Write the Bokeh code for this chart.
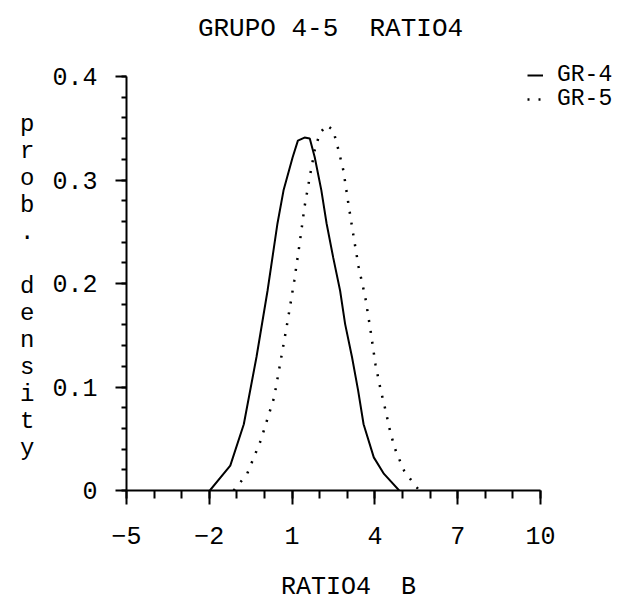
from bokeh.plotting import figure
from bokeh.models import Range1d, FixedTicker, Legend, LegendItem, Label
from bokeh.embed import file_html
from bokeh.resources import INLINE

# ---- data ----
gr4_x = [-1.98, -1.24, -0.75, -0.29, 0.11, 0.47, 0.69, 1.02, 1.21, 1.45, 1.64, 1.82,
         2.06, 2.25, 2.49, 2.74, 2.92, 3.17, 3.39, 3.59, 3.96, 4.33, 4.88]
gr4_y = [0.0, 0.024, 0.064, 0.129, 0.193, 0.258, 0.290, 0.322, 0.338, 0.341, 0.340, 0.322,
         0.290, 0.258, 0.225, 0.193, 0.161, 0.129, 0.097, 0.064, 0.032, 0.016, 0.0]
gr5_x = [-1.12, -0.63, -0.14, 0.35, 0.59, 0.84, 1.08, 1.27, 1.45, 1.64, 1.82, 2.00,
         2.25, 2.49, 2.68, 2.86, 3.04, 3.23, 3.41, 3.65, 3.84, 4.02, 4.21, 4.39,
         4.57, 4.76, 5.06, 5.37, 5.61]
gr5_y = [0.0, 0.016, 0.048, 0.090, 0.126, 0.164, 0.203, 0.238, 0.274, 0.303, 0.329, 0.345,
         0.353, 0.348, 0.329, 0.309, 0.277, 0.245, 0.216, 0.187, 0.155, 0.122, 0.097, 0.077,
         0.055, 0.038, 0.019, 0.008, 0.0]
series_names = ["GR-4", "GR-5"]
x_ticks = [-5, -2, 1, 4, 7, 10]
y_ticks = [0, 0.1, 0.2, 0.3, 0.4]
y_tick_labels = ["0", "0.1", "0.2", "0.3", "0.4"]
title_text = "GRUPO 4-5  RATIO4"
x_title = "RATIO4  B"
y_title = "prob. density"

FONT = "Liberation Mono"
NB = "\u00a0"

# layout: axes span x -5..10 over 126..540 px, y 0..0.4 over 490..76 px;
# the frame is widened to the canvas edge so that title and legend fit in it
X0, X1, Y0, Y1 = -5, 10, 0, 0.4
px_per_x = 414 / (X1 - X0)
px_per_y = 414 / (Y1 - Y0)
x_end = X0 + 504 / px_per_x
y_end = Y0 + 490 / px_per_y

p = figure(width=630, height=616, output_backend="svg", toolbar_location=None,
           x_range=Range1d(X0, x_end), y_range=Range1d(Y0, y_end),
           min_border_left=126, min_border_right=0, min_border_top=0,
           min_border_bottom=126)
p.title.visible = False
p.outline_line_color = None
p.grid.visible = False
p.background_fill_color = "white"
p.border_fill_color = "white"

# axes
xa = p.xaxis[0]
xa.bounds = (X0, X1)
xa.ticker = FixedTicker(ticks=x_ticks, minor_ticks=list(range(-5, 11)))
xa.axis_line_width = 2
xa.major_tick_line_width = 2
xa.minor_tick_line_width = 2
xa.major_tick_in = 0
xa.major_tick_out = 14
xa.minor_tick_in = 0
xa.minor_tick_out = 8
xa.major_label_text_font = FONT
xa.major_label_text_font_size = "25px"
xa.major_label_text_color = "black"
xa.major_label_standoff = 22
xa.axis_label = x_title.replace(" ", NB) + NB * 4
xa.axis_label_text_font = FONT
xa.axis_label_text_font_size = "25px"
xa.axis_label_text_font_style = "normal"
xa.axis_label_standoff = 26
xa.axis_label_text_color = "black"

ya = p.yaxis[0]
ya.bounds = (Y0, Y1)
ya.ticker = FixedTicker(ticks=y_ticks, minor_ticks=[i * 0.02 for i in range(21)])
ya.major_label_overrides = {t: s for t, s in zip(y_ticks, y_tick_labels)}
ya.axis_line_width = 2
ya.major_tick_line_width = 2
ya.minor_tick_line_width = 2
ya.major_tick_in = 0
ya.major_tick_out = 11
ya.minor_tick_in = 0
ya.minor_tick_out = 5
ya.major_label_text_font = FONT
ya.major_label_text_font_size = "25px"
ya.major_label_text_color = "black"
ya.major_label_standoff = 18
ya.axis_label = "\n".join([NB] * 3 + [ch if ch != " " else NB for ch in y_title])
ya.axis_label_orientation = "horizontal"
ya.axis_label_text_font = FONT
ya.axis_label_text_font_size = "24px"
ya.axis_label_text_font_style = "normal"
ya.axis_label_text_line_height = 1.0
ya.axis_label_text_color = "black"
ya.axis_label_standoff = 15

# curves
r4 = p.line(gr4_x, gr4_y, line_color="black", line_width=2)
r5 = p.line(gr5_x, gr5_y, line_color="black", line_width=2.5, line_dash="2 9")

# title (inside the widened frame)
p.add_layout(Label(x=204, y=462, x_units="screen", y_units="screen",
                   text=title_text.replace(" ", NB),
                   text_font=FONT, text_font_size="26px", text_align="center",
                   text_baseline="middle", text_color="black"))

# legend: one entry per box so rows sit as close as in the original
for i, (name, r) in enumerate(zip(series_names, [r4, r5])):
    lg = Legend(items=[LegendItem(label=name, renderers=[r])],
                location=(401, 402 - 24 * i), background_fill_alpha=0,
                border_line_color=None, label_text_font=FONT,
                label_text_color="black",
                label_text_font_size="23px", glyph_width=16, glyph_height=20,
                spacing=0, padding=0, margin=0, label_standoff=14, label_height=20)
    p.add_layout(lg, "center")

open("out.html", "w").write(file_html(p, INLINE))
